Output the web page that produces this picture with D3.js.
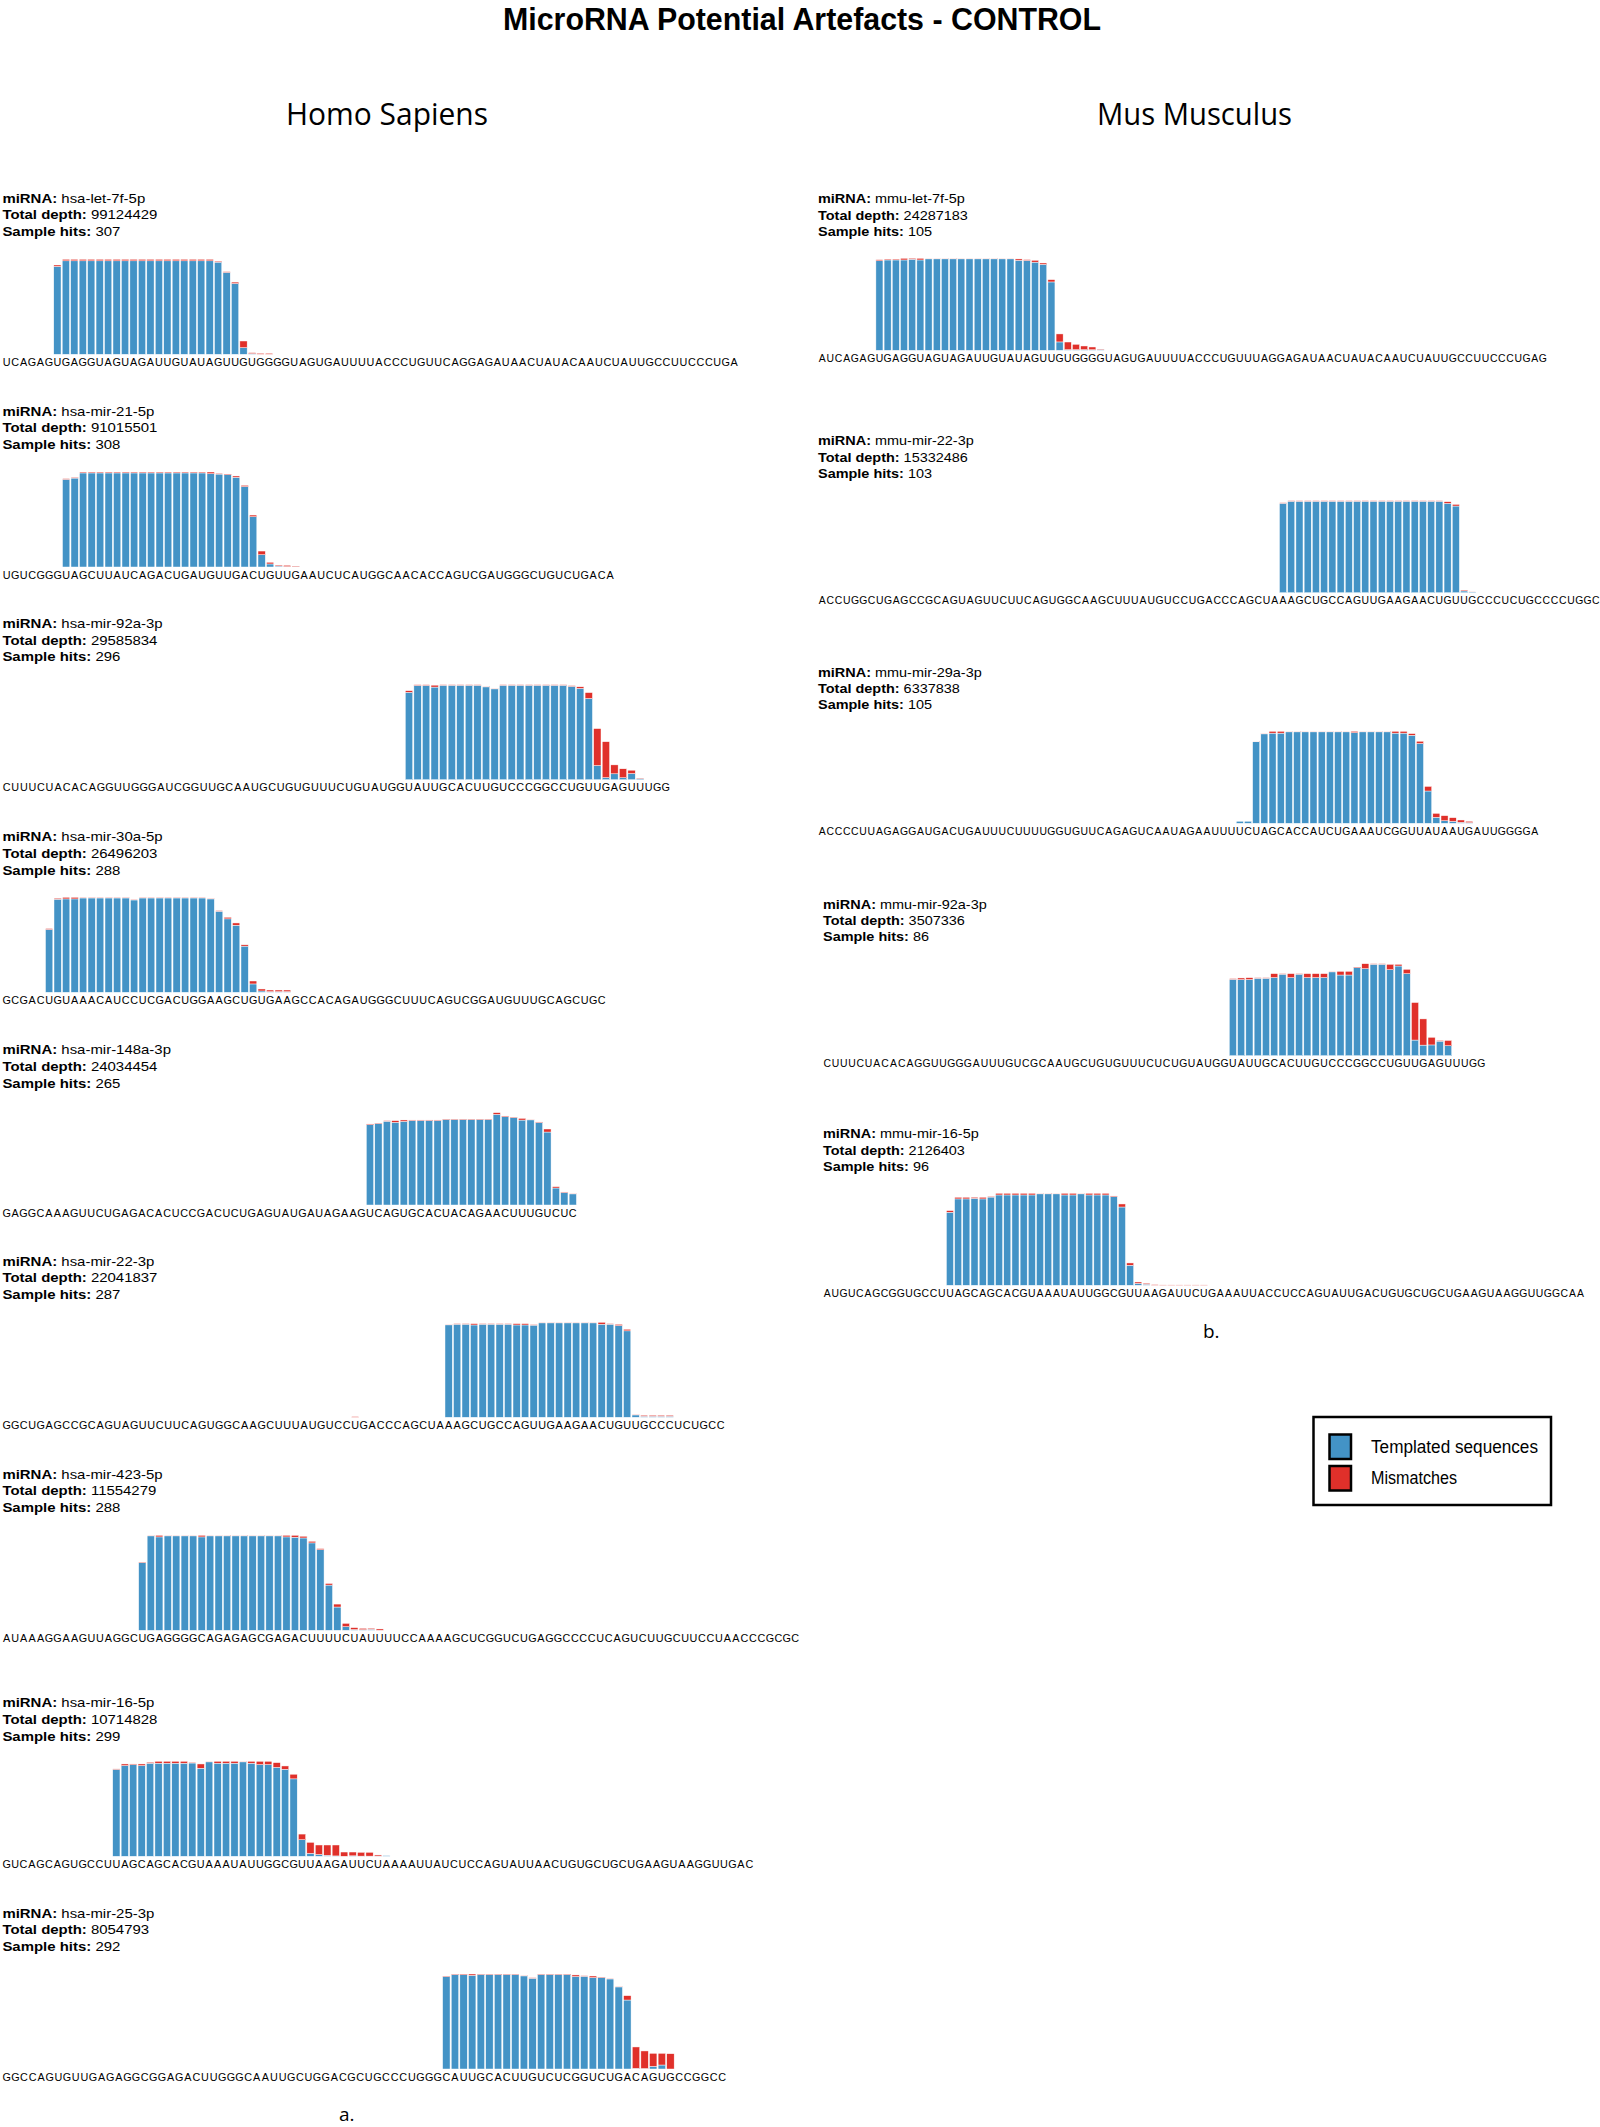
<!DOCTYPE html>
<html><head><meta charset="utf-8">
<script src="https://cdn.jsdelivr.net/npm/d3@7"></script>
<style>body{margin:0;background:#fff}svg{display:block}</style>
</head><body><svg id="chart" width="1600" height="2127"></svg>
<script>
// ---------------- DATA ----------------
const chartTitle = "MicroRNA Potential Artefacts - CONTROL";
const speciesNames = ["Homo Sapiens", "Mus Musculus"];
const panelLetters = ["a.", "b."];
const legendLabels = ["Templated sequences", "Mismatches"];

const mirNames = ["hsa-let-7f-5p","hsa-mir-21-5p","hsa-mir-92a-3p","hsa-mir-30a-5p","hsa-mir-148a-3p",
  "hsa-mir-22-3p","hsa-mir-423-5p","hsa-mir-16-5p","hsa-mir-25-3p",
  "mmu-let-7f-5p","mmu-mir-22-3p","mmu-mir-29a-3p","mmu-mir-92a-3p","mmu-mir-16-5p"];
const mirSpecies = [0,0,0,0,0,0,0,0,0,1,1,1,1,1];
const totalDepths = [99124429,91015501,29585834,26496203,24034454,22041837,11554279,10714828,8054793,
  24287183,15332486,6337838,3507336,2126403];
const sampleHits = [307,308,296,288,265,287,288,299,292,105,103,105,86,96];

const precursors = [
  "UCAGAGUGAGGUAGUAGAUUGUAUAGUUGUGGGGUAGUGAUUUUACCCUGUUCAGGAGAUAACUAUACAAUCUAUUGCCUUCCCUGA",
  "UGUCGGGUAGCUUAUCAGACUGAUGUUGACUGUUGAAUCUCAUGGCAACACCAGUCGAUGGGCUGUCUGACA",
  "CUUUCUACACAGGUUGGGAUCGGUUGCAAUGCUGUGUUUCUGUAUGGUAUUGCACUUGUCCCGGCCUGUUGAGUUUGG",
  "GCGACUGUAAACAUCCUCGACUGGAAGCUGUGAAGCCACAGAUGGGCUUUCAGUCGGAUGUUUGCAGCUGC",
  "GAGGCAAAGUUCUGAGACACUCCGACUCUGAGUAUGAUAGAAGUCAGUGCACUACAGAACUUUGUCUC",
  "GGCUGAGCCGCAGUAGUUCUUCAGUGGCAAGCUUUAUGUCCUGACCCAGCUAAAGCUGCCAGUUGAAGAACUGUUGCCCUCUGCC",
  "AUAAAGGAAGUUAGGCUGAGGGGCAGAGAGCGAGACUUUUCUAUUUUCCAAAAGCUCGGUCUGAGGCCCCUCAGUCUUGCUUCCUAACCCGCGC",
  "GUCAGCAGUGCCUUAGCAGCACGUAAAUAUUGGCGUUAAGAUUCUAAAAUUAUCUCCAGUAUUAACUGUGCUGCUGAAGUAAGGUUGAC",
  "GGCCAGUGUUGAGAGGCGGAGACUUGGGCAAUUGCUGGACGCUGCCCUGGGCAUUGCACUUGUCUCGGUCUGACAGUGCCGGCC",
  "AUCAGAGUGAGGUAGUAGAUUGUAUAGUUGUGGGGUAGUGAUUUUACCCUGUUUAGGAGAUAACUAUACAAUCUAUUGCCUUCCCUGAG",
  "ACCUGGCUGAGCCGCAGUAGUUCUUCAGUGGCAAGCUUUAUGUCCUGACCCAGCUAAAGCUGCCAGUUGAAGAACUGUUGCCCUCUGCCCCUGGC",
  "ACCCCUUAGAGGAUGACUGAUUUCUUUUGGUGUUCAGAGUCAAUAGAAUUUUCUAGCACCAUCUGAAAUCGGUUAUAAUGAUUGGGGA",
  "CUUUCUACACAGGUUGGGAUUUGUCGCAAUGCUGUGUUUCUCUGUAUGGUAUUGCACUUGUCCCGGCCUGUUGAGUUUGG",
  "AUGUCAGCGGUGCCUUAGCAGCACGUAAAUAUUGGCGUUAAGAUUCUGAAAUUACCUCCAGUAUUGACUGUGCUGCUGAAGUAAGGUUGGCAA"
];
// index (0-based) in the precursor of the first bar
const firstBarPos = [6,7,47,5,43,41,16,13,51,7,56,51,49,15];

// bar heights in % of each panel's height: templated (blue) and mismatch (red) reads
const templatedValues = [
  [92.5,98.4,98.4,98.4,98.4,98.4,98.4,98.4,98.4,98.4,98.4,98.4,98.4,98.4,98.4,98.4,98.4,98.4,98.4,97,86.2,74.5,7,0.7,0,0],
  [92.2,93.6,99,99,99,99,99,99,99,99,99,99,99,99,99,99,99,98.2,97.8,97.1,94.4,84.6,52.9,12.9,3.2,1,0.4,0.4],
  [92,99.2,99.2,97.5,99.4,99.4,99.4,99.4,99.4,97.7,95.6,99.4,99.4,99.4,99.4,99.4,99.4,99.4,99.4,98.2,96.1,85.5,14.9,2.2,6.2,2.1,6.5,1.2],
  [66.1,98,98.3,98.3,99.3,99.3,99.3,99.3,99.3,99.3,97.2,99.3,99.3,99.3,99.3,99.3,99.3,99.3,99.3,98.3,85.3,77.3,70.6,48.6,8.8,1.4,0.7,0.7,0.7],
  [84.5,85.7,88.2,87,88,88.9,88.9,88.9,88.9,89.9,89.9,89.9,89.9,89.9,89.9,95.4,92.9,92,89.4,89.6,86.8,76.8,17.9,13.1,11.7],
  [0,0,0,0,0,0,0,0,0,0,0,97.3,98,98,97.2,98,98,98,98,97.2,97.2,97,99.4,99.4,99.4,99.4,99.4,99.4,99.4,98,98,96.5,91,2.5,1.1,1.1,1.1,1.1],
  [71.1,99.4,98.3,99.4,99.4,99.4,99.4,98.3,99.4,99.4,99.4,99.4,99.4,99.4,99.4,99.4,99.4,98.3,98,97.2,92,84.8,47.6,24.5,3.8,0.8,0.6,1.1,0],
  [91.4,95.5,96.4,95.5,98,98,98,98,98,98.2,92.7,99.4,98,98,98,99.4,98,96.5,96.5,93.6,91.6,81.5,17.4,3.1,1.9,1.1,0.4,0,0.5,0.2,0.2,0.2,0.7],
  [97.3,99.4,99.2,98.6,99.4,99.4,99.4,99.4,99.4,98,95.5,99.4,99.4,99.4,99.4,97.3,97.6,96.2,96.2,94.8,86.4,72.6,0.7,0.5,2.8,4.2,0],
  [97.3,98.2,98.2,98.2,99,98.2,99.4,99.4,99.4,99.4,99.4,99.4,99.4,99.4,99.4,99.4,99.4,97.8,97.6,95.8,93.4,74.3,9.1,0.7,0.7,0.7,0.6,0.9],
  [97.2,99.4,99.4,99.4,99.4,99.4,99.4,99.4,99.4,99.4,99.4,99.4,99.4,99.4,99.4,99.4,99.4,99.4,99.4,99.4,97.1,94.2,1.9,0.8],
  [2.2,2.2,88.6,97.2,98,98,99.4,99.4,99.4,99.4,99.4,99.4,99.4,99.4,98.5,99.4,99.4,99.4,99.4,98,98,95.7,86.7,35.1,6.5,2.8,2.1,1.1,0.7],
  [83,82.7,82.8,84.2,84.2,84.9,88.6,84.9,88.6,84.9,84.9,84.9,91.1,87.7,87.7,95.6,94.6,99.4,99.4,93.5,97.5,89.2,17,11.5,11.7,15.8,10.8],
  [79.4,93.9,93.9,94.5,93.9,95.9,98.2,98.2,98.2,98.2,98.2,99.4,99.4,99.4,98.2,98.2,99.4,98.2,98.2,98.2,96.3,85.1,21.8,2.1,1.2,0,0,0,0,0,0,0]
];
const mismatchValues = [
  [1.5,1.6,1.6,1.6,1.6,1.6,1.6,1.6,1.6,1.6,1.6,1.6,1.6,1.6,1.6,1.6,1.6,1.6,1.6,1,0.8,1.5,7,1,1,1],
  [0.8,0.8,1,1,1,1,1,1,1,1,1,1,1,1,1,1,1,1.8,0.8,0.8,1.4,1.4,1.8,3.9,1.8,1,1.4,0.6],
  [1.7,0.8,0.8,2,0.6,0.6,0.6,0.6,0.6,0.6,0.6,0.6,0.6,0.6,0.6,0.6,0.6,0.6,0.6,0.8,1.7,6.2,38.9,37.8,9.4,9.4,3.5,0.5],
  [1,1,1.7,1.7,0.7,0.7,0.7,0.7,0.7,0.7,0.7,0.7,0.7,0.7,0.7,0.7,0.7,0.7,0.7,0.7,0.7,1.7,2.4,1.4,3.1,2.1,1.7,1.7,1.7],
  [0.8,0.6,0.6,1.8,1.5,0.6,0.6,0.6,0.6,0.6,0.6,0.6,0.6,0.6,0.6,1.8,0.8,0.6,1.8,0.6,0.6,3.2,1.4,0.6,0.6],
  [0.7,0,0,0,0,0,0,0,0,0,0,0.6,0.6,0.6,1.4,0.6,0.6,0.6,0.6,1.4,1.4,0.6,0.6,0.6,0.6,0.6,0.6,0.6,0.6,2,0.6,1.4,1.7,0.6,1,1,1,1],
  [0.6,0.6,1.7,0.6,0.6,0.6,0.6,1.7,0.6,0.6,0.6,0.6,0.6,0.6,0.6,0.6,0.6,1.7,2,1.8,1.7,1.2,1.7,3.1,3.5,2,1.5,1,1.4],
  [0.6,1.7,0.8,1.7,1,2,2,2,2,0.8,4.5,0.6,2,2,2,0.6,2,3.5,3.5,5,3.5,4.9,6,11.6,10,10.8,11.5,4.5,4,4,4,1.2,0],
  [0.6,0.6,0.8,1.4,0.6,0.6,0.6,0.6,0.6,0.6,0.6,0.6,0.6,0.6,0.6,1.7,0.6,1.7,0.6,0.6,0.6,4.6,22.5,18.5,13.7,12.3,16.1],
  [1.2,1,1,1.8,1,1.8,0.6,0.6,0.6,0.6,0.6,0.6,0.6,0.6,0.6,0.6,0.6,1.5,1,2,1.5,2.5,8.7,8.3,5.8,4,3,0.5],
  [0.6,0.6,0.6,0.6,0.6,0.6,0.6,0.6,0.6,0.6,0.6,0.6,0.6,0.6,0.6,0.6,0.6,0.6,0.6,0.6,1.8,1.8,1,0.3],
  [0,0,0.6,0.6,2,2,0.6,0.6,0.6,0.6,0.6,0.6,0.6,0.6,1.5,0.6,0.6,0.6,0.6,2,2,1.8,2.5,5,4.3,5.5,4,2.5,1.5],
  [0.8,1.8,2,0.6,0.6,4.3,0.6,4.3,0.6,4.3,4.3,4.3,0.6,4,4,0.8,5.4,0.6,0.6,5.8,1.8,4.7,40.8,28.5,8.3,0.8,5.8],
  [1.8,1.8,1.8,1.2,1.8,0.8,1.8,1.8,1.8,1.8,1.8,0.6,0.6,0.6,1.8,1.8,0.6,1.8,1.8,1.8,0.8,3.3,2.5,1.5,1,0.7,0.4,0.4,0.4,0.4,0.4,0.4]
];

// ---------------- LAYOUT / STYLE ----------------
const W = 1600, H = 2127;
const colorTemplated = "#4393c6";
const colorMismatch = "#e0302a";
const fontSans = "'Liberation Sans', Arial, Helvetica, sans-serif";
const fontHead = "'Open Sans', 'Noto Sans', sans-serif";

const columns = [
  { x: [2.4,2.4,2.4,2.4,2.4,2.4,2.4,2.4,2.4],
    step: [8.46,8.5,8.56,8.5,8.45,8.5,8.48,8.44,8.62], maxH: 95,
    headY: [202.5,415.5,628,841.2,1054.2,1265.5,1478.5,1707.2,1917.5],
    baseY: [354.3,567,779.7,992.3,1205,1417.3,1630.3,1856.3,2069],
    headFont: 13, headScale: 1.15, lineGap: 16.7, seqFont: 10.8 },
  { x: [818,818,818,823,823],
    step: [8.19,8.23,8.19,8.28,8.19], maxH: 92,
    headY: [203.3,445.2,676.5,908.5,1138.2],
    baseY: [350.3,592.7,823.3,1055.7,1285.3],
    headFont: 12.8, headScale: 1.13, lineGap: 16.4, seqFont: 10.4 }
];

const svg = d3.select("#chart");
svg.append("rect").attr("width", W).attr("height", H).attr("fill", "#fff");

// title
svg.append("text")
  .attr("x", 503).attr("y", 30)
  .attr("textLength", 598).attr("lengthAdjust", "spacingAndGlyphs")
  .style("font-family", fontSans).style("font-weight", 700).style("font-size", "32px")
  .attr("fill", "#000").text(chartTitle);

// species headings
const speciesX = [286, 1097], speciesLen = [202, 195];
speciesNames.forEach((s, i) => {
  svg.append("text").attr("x", speciesX[i]).attr("y", 125)
    .attr("textLength", speciesLen[i]).attr("lengthAdjust", "spacingAndGlyphs")
    .style("font-family", fontHead).style("font-size", "31px").attr("fill", "#000").text(s);
});

// panel letters
const letterPos = [[339, 2121], [1203, 1338]];
panelLetters.forEach((l, i) => {
  svg.append("text").attr("x", letterPos[i][0]).attr("y", letterPos[i][1])
    .style("font-family", fontHead).style("font-size", "19px").attr("fill", "#000").text(l);
});

// panels
const colCounters = [0, 0];
mirNames.forEach((name, p) => {
  const c = mirSpecies[p];
  const j = colCounters[c]++;
  const col = columns[c];
  const x0 = col.x[j], baseY = col.baseY[j], headY = col.headY[j], step = col.step[j];
  const seq = precursors[p];
  const L = seq.length;

  const g = svg.append("g").attr("class", "panel");

  // header
  const hg = g.append("g").attr("transform", `translate(${x0},${headY}) scale(${col.headScale},1)`);
  const lines = [["miRNA: ", name], ["Total depth: ", String(totalDepths[p])], ["Sample hits: ", String(sampleHits[p])]];
  lines.forEach((ln, k) => {
    const t = hg.append("text").attr("x", 0).attr("y", k * col.lineGap)
      .style("font-family", fontSans).style("font-size", col.headFont + "px").attr("fill", "#000");
    t.append("tspan").style("font-weight", 700).text(ln[0]);
    t.append("tspan").text(ln[1]);
  });

  // scales
  const xScale = d3.scaleBand().domain(d3.range(L))
    .range([x0, x0 + L * step]).paddingInner(0.14).paddingOuter(0.07);
  const yScale = d3.scaleLinear().domain([0, 100]).range([baseY, baseY - col.maxH]);

  const rows = templatedValues[p].map((v, k) => ({
    pos: firstBarPos[p] + k, templated: v, mismatch: mismatchValues[p][k]
  }));
  const stack = d3.stack().keys(["templated", "mismatch"]);
  const series = stack(rows);
  const colors = { templated: colorTemplated, mismatch: colorMismatch };

  g.selectAll("g.layer").data(series).join("g").attr("class", "layer")
    .attr("fill", d => colors[d.key])
    .selectAll("rect").data(d => d.filter(s => s[1] - s[0] > 0))
    .join("rect")
    .attr("x", d => xScale(d.data.pos))
    .attr("width", xScale.bandwidth())
    .attr("y", d => yScale(d[1]))
    .attr("height", d => Math.max(0, yScale(d[0]) - yScale(d[1])))
    .attr("stroke", "#ffffff").attr("stroke-width", 0.45);

  // sequence letters aligned on bars
  const xs = d3.range(L).map(k => (xScale(k) + xScale.bandwidth() / 2).toFixed(2)).join(" ");
  g.append("text").attr("x", xs).attr("y", baseY + 11.5)
    .attr("text-anchor", "middle")
    .style("font-family", fontSans).style("font-size", col.seqFont + "px").attr("fill", "#000")
    .text(seq);
});

// legend
const lg = svg.append("g").attr("class", "legend");
lg.append("rect").attr("x", 1313.5).attr("y", 1417).attr("width", 237.5).attr("height", 88)
  .attr("fill", "#fff").attr("stroke", "#000").attr("stroke-width", 2.5);
const legendColors = [colorTemplated, colorMismatch];
const legendY = [1434.5, 1466];
const legendLen = [167, 86];
legendLabels.forEach((lab, i) => {
  lg.append("rect").attr("x", 1329.5).attr("y", legendY[i]).attr("width", 21.5).attr("height", 24.5)
    .attr("fill", legendColors[i]).attr("stroke", "#000").attr("stroke-width", 2.5);
  lg.append("text").attr("x", 1371).attr("y", legendY[i] + 18)
    .attr("textLength", legendLen[i]).attr("lengthAdjust", "spacingAndGlyphs")
    .style("font-family", fontSans).style("font-size", "17.5px").attr("fill", "#000").text(lab);
});
</script>
</body></html>
